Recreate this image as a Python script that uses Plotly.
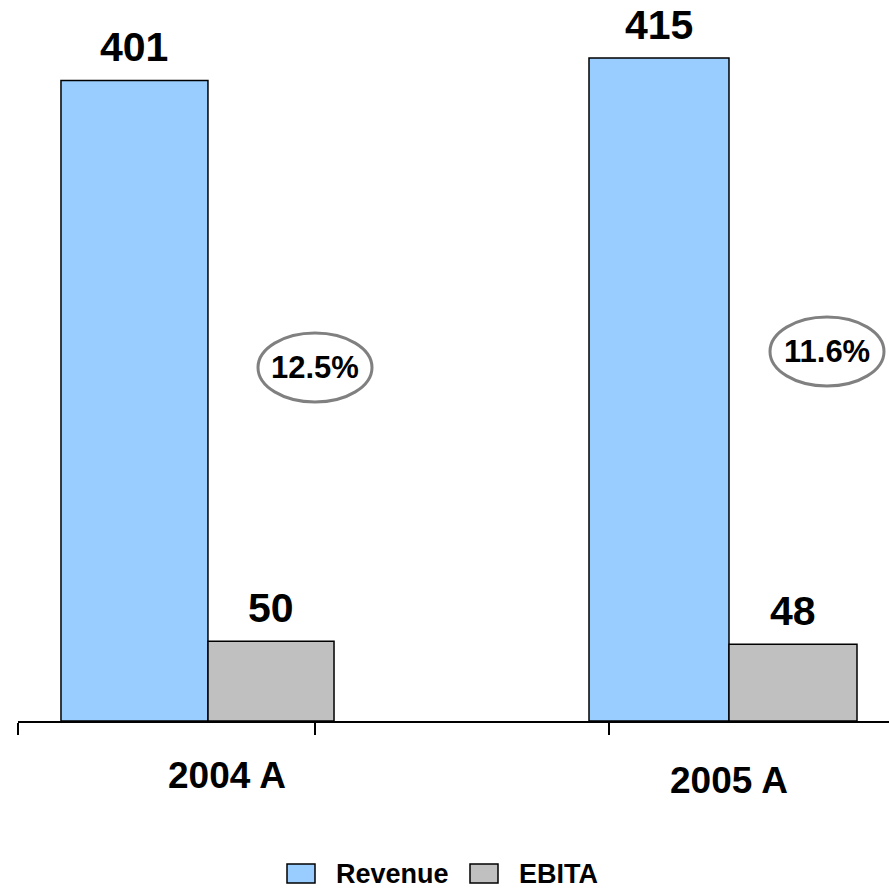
import plotly.graph_objects as go

# ---- data ----
categories = ["2004 A", "2005 A"]
series_names = ["Revenue", "EBITA"]
revenue = [401, 415]
ebita = [50, 48]
margin_labels = ["12.5%", "11.6%"]

# ---- styles ----
REV_COLOR = "#99CCFF"
EBITA_COLOR = "#C0C0C0"
FONT = "Liberation Sans, Arial, sans-serif"

W, H = 889, 889
ML, MR, MT, MB = 18, 0, 0, 168
PW, PH = W - ML - MR, H - MT - MB

def px(x):  # pixel x -> paper
    return (x - ML) / PW

def py(y):  # pixel y -> paper
    return (H - MB - y) / PH

xi = list(range(len(categories)))
rev_off = [-0.2598, -0.2550]
rev_w = [0.2797, 0.2664]
eb_off = [0.0200, 0.0114]
eb_w = [0.2398, 0.2436]

fig = go.Figure()
fig.add_trace(go.Bar(x=xi, y=revenue, name=series_names[0], offset=rev_off, width=rev_w,
                     marker=dict(color=REV_COLOR, line=dict(color="black", width=1.5))))
fig.add_trace(go.Bar(x=xi, y=ebita, name=series_names[1], offset=eb_off, width=eb_w,
                     marker=dict(color=EBITA_COLOR, line=dict(color="black", width=1.5))))

ann = []
# value labels
for vals, off, w in [(revenue, rev_off, rev_w), (ebita, eb_off, eb_w)]:
    for i, v in enumerate(vals):
        ann.append(dict(x=i + off[i] + w[i] / 2, y=v, xref="x", yref="y", text=str(v),
                        showarrow=False, yanchor="bottom", yshift=8,
                        font=dict(family=FONT, size=41, color="black", weight="bold")))

# category labels
cat_px = [(226.5, 775.5), (729, 780)]
for c, (cx, cy) in zip(categories, cat_px):
    ann.append(dict(x=px(cx), y=py(cy), xref="paper", yref="paper", text=c, showarrow=False,
                    xanchor="center", yanchor="middle",
                    font=dict(family=FONT, size=37, color="black", weight="bold")))

# margin ellipses
ell_px = [(258, 333, 372, 402), (770, 317, 884, 386)]
shapes = []
for lab, (x0, y0, x1, y1) in zip(margin_labels, ell_px):
    shapes.append(dict(type="circle", xref="paper", yref="paper", x0=px(x0), x1=px(x1),
                       y0=py(y1), y1=py(y0), line=dict(color="#808080", width=3),
                       fillcolor="rgba(0,0,0,0)"))
    ann.append(dict(x=px((x0 + x1) / 2), y=py((y0 + y1) / 2), xref="paper", yref="paper",
                    text=lab, showarrow=False, xanchor="center", yanchor="middle",
                    font=dict(family=FONT, size=31, color="black", weight="bold")))

# custom legend
leg = [(287, 315, 334, REV_COLOR, series_names[0]), (470, 498, 517, EBITA_COLOR, series_names[1])]
for sx0, sx1, tx, col, name in leg:
    shapes.append(dict(type="rect", xref="paper", yref="paper", x0=px(sx0), x1=px(sx1),
                       y0=py(883), y1=py(864), fillcolor=col, line=dict(color="black", width=1.5)))
    ann.append(dict(x=px(tx), y=py(874), xref="paper", yref="paper", text=name, showarrow=False,
                    xanchor="left", yanchor="middle",
                    font=dict(family=FONT, size=27, color="black", weight="bold")))

unit = 525.5
left_cat_px = 179.5
x_lo = -left_cat_px / unit
x_hi = (PW - left_cat_px) / unit
tick_px = [0, 297, 591]
tickvals = [(t - left_cat_px) / unit for t in tick_px]

fig.update_layout(
    width=W, height=H,
    margin=dict(l=ML, r=MR, t=MT, b=MB),
    paper_bgcolor="white", plot_bgcolor="white",
    showlegend=False,
    xaxis=dict(range=[x_lo, x_hi], showgrid=False, zeroline=False, showline=True,
               linecolor="black", linewidth=1.5, ticks="outside", ticklen=12,
               tickcolor="black", tickwidth=1.5, tickvals=tickvals,
               ticktext=["" for _ in tickvals]),
    yaxis=dict(range=[0, PH / 1.5975], visible=False),
    annotations=ann, shapes=shapes,
)

fig.write_html("out.html")
